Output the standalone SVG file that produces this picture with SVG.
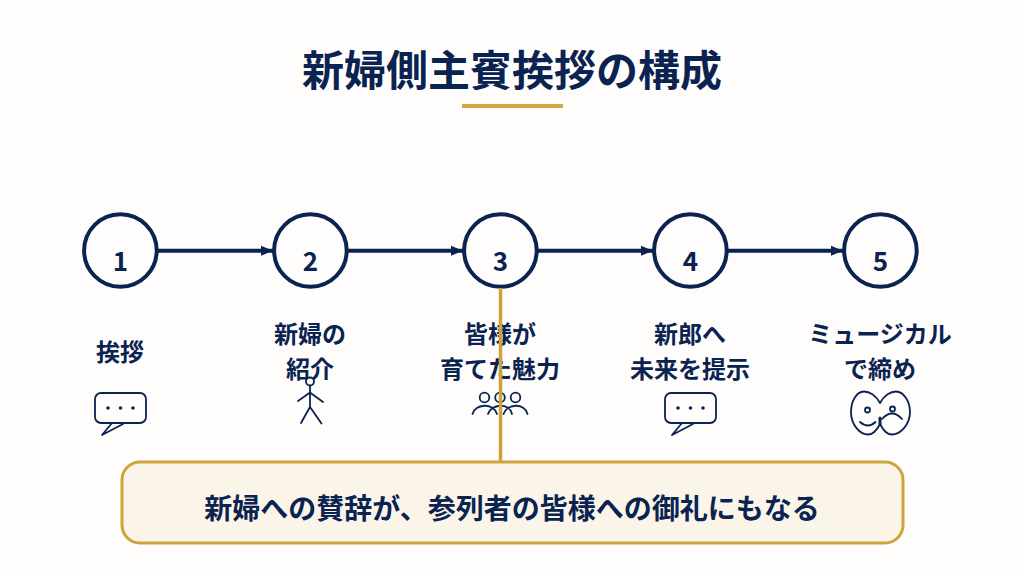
<svg xmlns="http://www.w3.org/2000/svg" width="1024" height="576" viewBox="0 0 1024 576">
<style>
text{font-family:"Noto Sans CJK JP","Noto Sans",sans-serif;fill:#0a2350;text-anchor:middle}
.t{font-size:42px;font-weight:700}
.n{font-size:26px;font-weight:700}
.l{font-size:24px;font-weight:700}
.c{font-size:28px;font-weight:700}
.ci{fill:#fffdfb;stroke:#0a2350;stroke-width:4}
.ln{stroke:#0a2350;stroke-width:4;fill:none}
.i{fill:none;stroke:#0a2350;stroke-width:1.800;stroke-linecap:round;stroke-linejoin:round}
.d{fill:#0a2350}
.g{stroke:#cfa33c;stroke-width:3.500;fill:none}
</style>
<defs>
<marker id="a" markerUnits="userSpaceOnUse" markerWidth="14" markerHeight="12" refX="13" refY="6" orient="auto"><path d="M1 1L13 6L1 11Z" fill="#0a2350"/></marker>
<g id="bubble"><rect x="0" y="0" width="51" height="30" rx="6" class="i"/><path d="M17 30L7 42L28 31" class="i"/><circle cx="13" cy="15" r="1.800" class="d"/><circle cx="25.500" cy="15" r="1.800" class="d"/><circle cx="38" cy="15" r="1.800" class="d"/></g>
</defs>
<rect width="1024" height="576" fill="#fffdfb"/>
<g id="title"><text class="t" x="512" y="86">新婦側主賓挨拶の構成</text><rect x="462" y="104" width="101" height="4" fill="#d4a63c"/></g>
<g id="connectors">
<path class="ln" marker-end="url(#a)" d="M158 250.700H273"/>
<path class="ln" marker-end="url(#a)" d="M348 250.700H463"/>
<path class="ln" marker-end="url(#a)" d="M538 250.700H653"/>
<path class="ln" marker-end="url(#a)" d="M728 250.700H843"/>
</g>
<g id="n1"><circle class="ci" cx="120.400" cy="250.500" r="36.300"/><text class="n" x="120.500" y="271">1</text><text class="l" x="120" y="361">挨拶</text><use href="#bubble" x="95" y="393"/></g>
<g id="n2"><circle class="ci" cx="310.400" cy="250.500" r="36.300"/><text class="n" x="310.500" y="271">2</text><text class="l" x="310" y="343">新婦の</text><text class="l" x="310" y="378">紹介</text>
<g class="i"><circle cx="310" cy="381.500" r="4" fill="#fffdfb"/><path d="M310 385.500V407M298 401L310 392.500L323 402M310 407L301 423M310 407L321.500 423.500"/></g></g>
<g id="n3"><circle class="ci" cx="500.400" cy="250.500" r="36.300"/><text class="n" x="500.500" y="271">3</text><text class="l" x="500" y="343">皆様が</text><text class="l" x="500" y="378">育てた魅力</text>
<g class="i"><circle cx="484.500" cy="397.500" r="4.800"/><circle cx="500" cy="397.500" r="4.800"/><circle cx="515.500" cy="397.500" r="4.800"/><path d="M472.500 414C475 404 493 402 497 414M488 414C491 404 509 402 512 414M503.500 414C507 404 524 402 527.500 414"/></g></g>
<g id="n4"><circle class="ci" cx="690.400" cy="250.500" r="36.300"/><text class="n" x="690.500" y="271">4</text><text class="l" x="690" y="343">新郎へ</text><text class="l" x="690" y="378">未来を提示</text><use href="#bubble" x="665" y="393"/></g>
<g id="n5"><circle class="ci" cx="880.400" cy="250.500" r="36.300"/><text class="n" x="880.500" y="271">5</text><text class="l" x="880" y="343">ミュージカル</text><text class="l" x="880" y="378">で締め</text>
<g class="i"><path d="M880 403C876 395 869 391.500 864 391.500C856 391.500 851 402 851 412C851 425 860 434.500 868 434.500C873 434.500 877 430 880 424C883 430 887 434.500 892 434.500C900 434.500 910 425 910 412C910 402 904 391.500 896 391.500C891 391.500 884 395 880 403Z"/><circle cx="867.500" cy="410" r="2.500"/><circle cx="892.500" cy="409" r="2.500"/><path d="M860 422Q868 429 875.500 422M882 419Q892 408 902 419"/><path d="M880 418V424" stroke-width="3"/></g></g>
<g id="callout"><path class="g" d="M500.500 288V461"/><rect x="122" y="462" width="781" height="81" rx="18" fill="#fbf5e9" stroke="#cfa33c" stroke-width="3"/><text class="c" x="512" y="519">新婦への賛辞が、参列者の皆様への御礼にもなる</text></g>
</svg>
